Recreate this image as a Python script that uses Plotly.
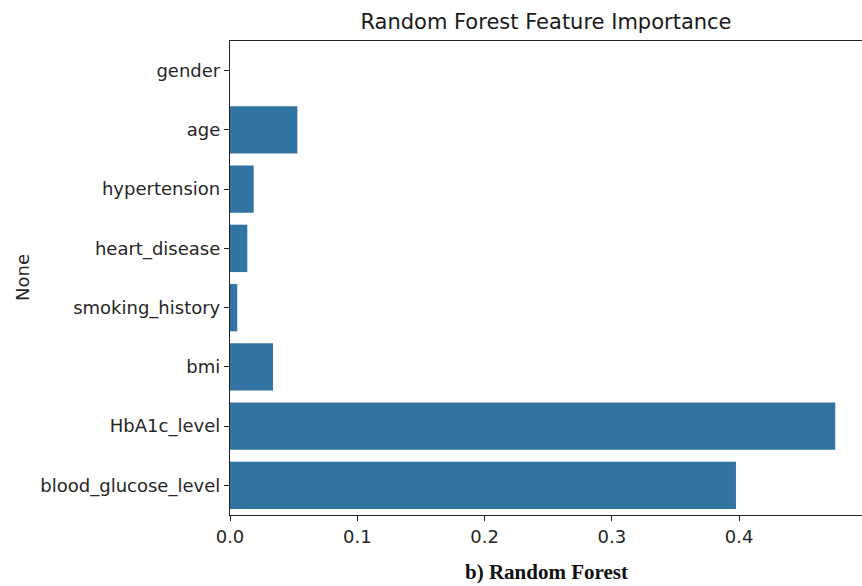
import plotly.graph_objects as go

# Feature importances from the random forest model
features = ["gender", "age", "hypertension", "heart_disease", "smoking_history",
            "bmi", "HbA1c_level", "blood_glucose_level"]
importance = [0.0, 0.0529, 0.0186, 0.0136, 0.0057, 0.0338, 0.4755, 0.3975]

x_ticks = [0.0, 0.1, 0.2, 0.3, 0.4]
x_tick_text = ["0.0", "0.1", "0.2", "0.3", "0.4"]

BAR_COLOR = "#3274a1"
FONT = "DejaVu Sans"
TICK_SIZE = 18

fig = go.Figure(
    go.Bar(
        x=importance,
        y=list(range(len(features))),
        orientation="h",
        width=0.8,
        marker=dict(color=BAR_COLOR, line=dict(width=0)),
        hoverinfo="x+y",
    )
)

fig.update_layout(
    width=862,
    height=586,
    margin=dict(l=230, r=0, t=41, b=71),
    paper_bgcolor="white",
    plot_bgcolor="white",
    showlegend=False,
    font=dict(family=FONT, color="#262626", size=TICK_SIZE),
    title=dict(
        text="Random Forest Feature Importance",
        x=0.6334, xanchor="center",
        y=1 - 22 / 586, yanchor="middle",
        font=dict(family=FONT, size=21, color="#1a1a1a"),
    ),
    xaxis=dict(
        range=[0, 0.4965],
        tickvals=x_ticks,
        ticktext=x_tick_text,
        showgrid=False,
        zeroline=False,
        showline=True,
        mirror=True,
        linecolor="#222222",
        linewidth=1.3,
        ticks="outside",
        ticklen=5,
        tickwidth=1.2,
        tickcolor="#222222",
        tickfont=dict(size=TICK_SIZE),
    ),
    yaxis=dict(
        range=[7.5, -0.5],
        tickvals=list(range(len(features))),
        ticktext=features,
        showgrid=False,
        zeroline=False,
        showline=True,
        mirror=False,
        linecolor="#222222",
        linewidth=1.3,
        ticks="outside",
        ticklen=5,
        tickwidth=1.2,
        tickcolor="#222222",
        tickfont=dict(size=TICK_SIZE),
    ),
    annotations=[
        dict(
            text="None", textangle=-90,
            xref="paper", yref="paper",
            x=(22 - 230) / 632, y=0.5,
            xanchor="center", yanchor="middle",
            showarrow=False, font=dict(family=FONT, size=TICK_SIZE, color="#262626"),
        ),
        dict(
            text="<b>b) Random Forest</b>",
            xref="paper", yref="paper",
            x=0.5, y=(515 - 572) / 474,
            xanchor="center", yanchor="middle",
            showarrow=False,
            font=dict(family="Liberation Serif", size=21, color="#111111"),
        ),
    ],
)

fig.write_html("out.html")
